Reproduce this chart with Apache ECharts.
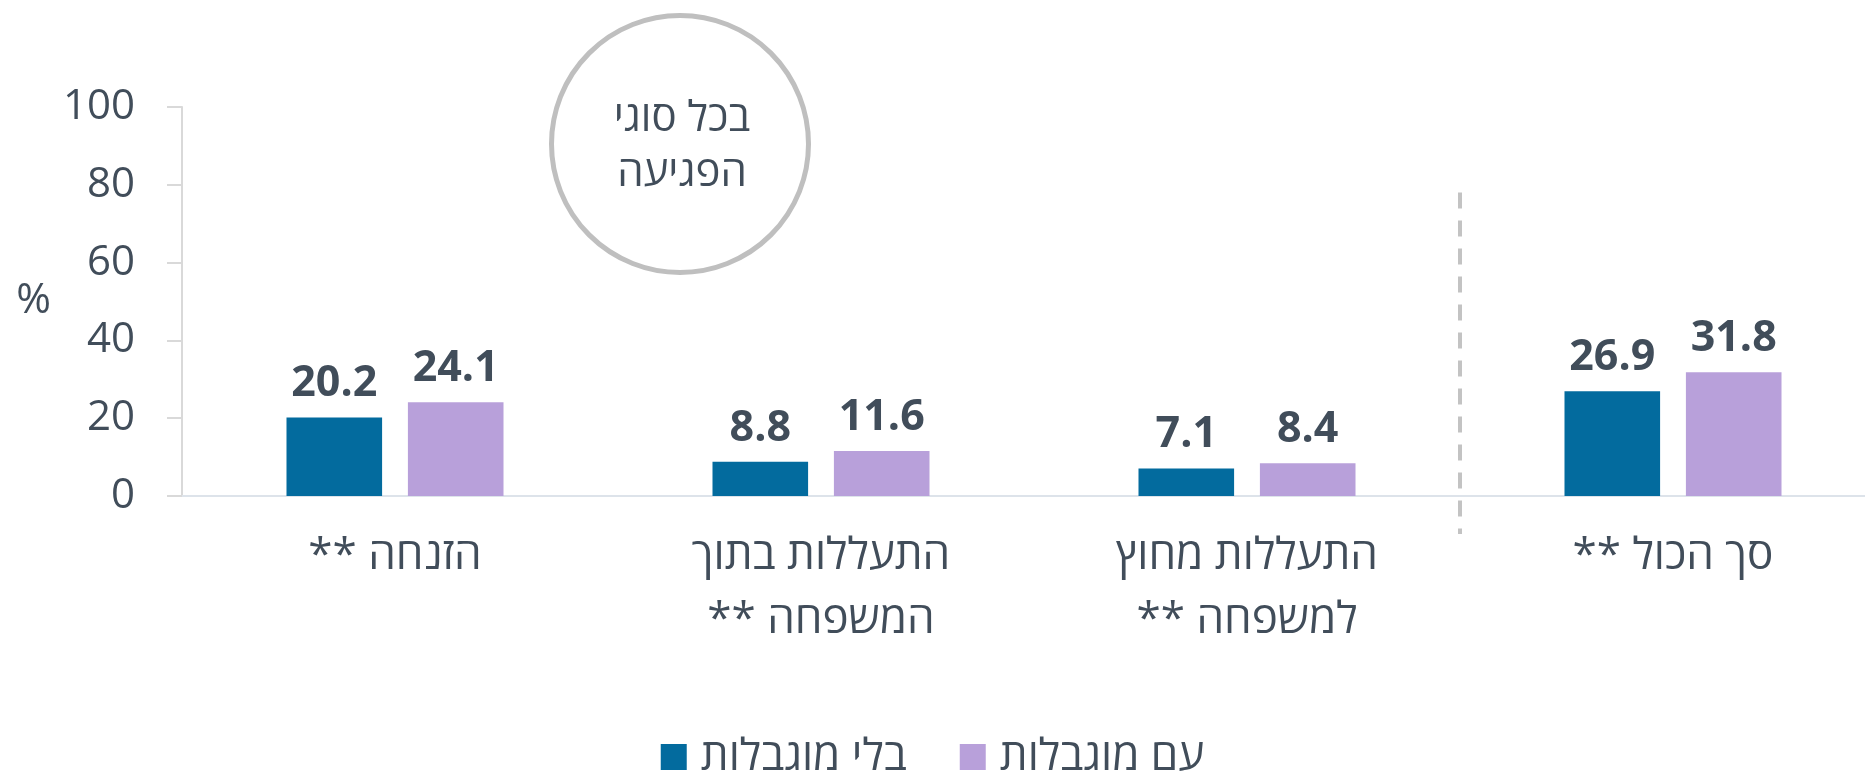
<!DOCTYPE html>
<html lang="he">
<head>
<meta charset="utf-8">
<title>פגיעה בילדים – עם ובלי מוגבלות</title>
<script src="https://cdn.jsdelivr.net/npm/echarts@6/dist/echarts.min.js"></script>
<style>
  html, body { margin: 0; padding: 0; background: #ffffff; }
  #chart { width: 1865px; height: 772px; direction: rtl; }
</style>
</head>
<body>
<div id="chart" dir="rtl"></div>
<script>
// Categories along the x axis (Hebrew, right-to-left text)
const categories = [
  'הזנחה **',
  'התעללות בתוך\nהמשפחה **',
  'התעללות מחוץ\nלמשפחה **',
  'סך הכול **'
];
// Percent values per group
const withoutDisability = [20.2, 8.8, 7.1, 26.9];
const withDisability = [24.1, 11.6, 8.4, 31.8];
// Series names shown in the legend
const seriesNames = ['בלי מוגבלות', 'עם מוגבלות'];
// Y axis range and ticks
const yMin = 0, yMax = 100, yStep = 20;
const yName = '%';
// Callout text
const calloutText = 'בכל סוגי\nהפגיעה';

const TEXT = '#414d5a';
const FONT = '"Open Sans", "Liberation Sans", "DejaVu Sans", sans-serif';
const BLUE = '#036b9e';
const PURPLE = '#b8a0da';

const chart = echarts.init(document.getElementById('chart'), null, { renderer: 'canvas' });

const barLabel = {
  show: true,
  position: 'top',
  distance: 12,
  color: TEXT,
  fontFamily: FONT,
  fontWeight: 'bold',
  fontSize: 43,
  formatter: p => p.value.toFixed(1)
};

// The plot area runs a little past the right edge of the page,
// so its width is given explicitly and not squeezed into the container.
chart.setOption({
  backgroundColor: '#ffffff',
  animation: false,
  grid: {
    left: 182, width: 1704, top: 107, bottom: 276,
    containLabel: false,
    outerBoundsMode: 'none'
  },
  legend: {
    data: seriesNames,
    left: 'center',
    top: 729,
    itemWidth: 26,
    itemHeight: 26,
    itemGap: 53,
    icon: 'rect',
    textStyle: { color: TEXT, fontFamily: FONT, fontSize: 44, lineHeight: 46, padding: [0, 0, 0, 9] }
  },
  xAxis: {
    type: 'category',
    data: categories,
    axisLine: { show: true, lineStyle: { color: '#dde3ea', width: 2 } },
    axisTick: { show: false },
    axisLabel: {
      color: TEXT,
      fontFamily: FONT,
      fontSize: 44,
      lineHeight: 64,
      margin: 28,
      interval: 0
    },
    splitLine: { show: false }
  },
  yAxis: {
    type: 'value',
    min: yMin,
    max: yMax,
    interval: yStep,
    name: yName,
    nameLocation: 'middle',
    nameRotate: 0,
    nameGap: 131,
    nameTextStyle: { color: TEXT, fontFamily: FONT, fontSize: 42, padding: [60, 0, 0, 0] },
    axisLine: { show: true, lineStyle: { color: '#d9d9d9', width: 2 } },
    axisTick: { show: true, length: 15, lineStyle: { color: '#d9d9d9', width: 2 } },
    axisLabel: { color: TEXT, fontFamily: FONT, fontSize: 42, margin: 47 },
    splitLine: { show: false }
  },
  series: [
    {
      name: seriesNames[0],
      type: 'bar',
      data: withoutDisability,
      barWidth: 95.6,
      barGap: '27%',
      itemStyle: { color: BLUE },
      label: barLabel
    },
    {
      name: seriesNames[1],
      type: 'bar',
      data: withDisability,
      barWidth: 95.6,
      barGap: '27%',
      itemStyle: { color: PURPLE },
      label: barLabel
    }
  ]
});

// Dashed separator between the three abuse types and the total,
// plus the circled note above the first groups.
function drawDecorations() {
  const xA = chart.convertToPixel({ xAxisIndex: 0 }, categories[2]);
  const xB = chart.convertToPixel({ xAxisIndex: 0 }, categories[3]);
  const xSep = (xA + xB) / 2;
  const yTop = chart.convertToPixel({ yAxisIndex: 0 }, 78);
  const yZero = chart.convertToPixel({ yAxisIndex: 0 }, 0);
  chart.setOption({
    graphic: [
      {
        type: 'line',
        shape: { x1: xSep, y1: yTop, x2: xSep, y2: yZero + 38 },
        style: { stroke: '#c3c3c3', lineWidth: 4, lineDash: [16, 12] },
        silent: true
      },
      {
        type: 'circle',
        shape: { cx: 680, cy: 144, r: 128.5 },
        style: { fill: '#ffffff', stroke: '#bfbfbf', lineWidth: 5 },
        silent: true
      },
      {
        type: 'text',
        x: 682,
        y: 147,
        style: {
          text: calloutText,
          fill: TEXT,
          font: '42px ' + FONT,
          lineHeight: 55,
          align: 'center',
          verticalAlign: 'middle'
        },
        silent: true
      }
    ]
  });
}
drawDecorations();
</script>
</body>
</html>
